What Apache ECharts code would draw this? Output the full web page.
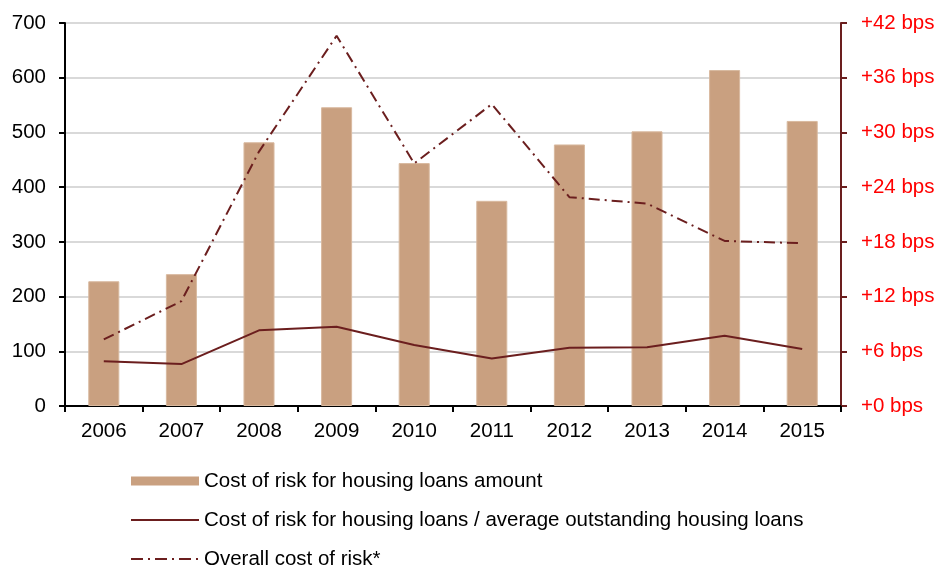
<!DOCTYPE html>
<html>
<head>
<meta charset="utf-8">
<script src="https://cdn.jsdelivr.net/npm/echarts@6/dist/echarts.min.js"></script>
<style>
  html, body { margin: 0; padding: 0; background: #fff; }
  #chart { width: 939px; height: 568px; }
</style>
</head>
<body>
<div id="chart"></div>
<script>
// Years on the category axis
const years = ['2006', '2007', '2008', '2009', '2010', '2011', '2012', '2013', '2014', '2015'];
// Cost of risk for housing loans, amount (left axis)
const housingAmount = [228, 241, 482, 546, 444, 375, 478, 502, 614, 521];
// Cost of risk for housing loans / average outstanding housing loans, in bps (right axis)
const housingRatioBps = [4.9, 4.6, 8.3, 8.7, 6.7, 5.2, 6.4, 6.45, 7.7, 6.25];
// Overall cost of risk, in bps (right axis)
const overallBps = [7.3, 11.5, 27.9, 40.6, 26.6, 33.1, 22.9, 22.2, 18.1, 17.85];
// Right axis tick values
const bpsTicks = [0, 6, 12, 18, 24, 30, 36, 42];

const seriesNames = [
  'Cost of risk for housing loans amount',
  'Cost of risk for housing loans / average outstanding housing loans',
  'Overall cost of risk*'
];

const font = 'Arial, "Liberation Sans", sans-serif';
const maroon = '#6B1E1E';
const barColor = '#C9A080';
const hiddenSymbol = { color: 'rgba(0,0,0,0)', borderWidth: 0, opacity: 0 };

const chart = echarts.init(document.getElementById('chart'), null, { renderer: 'canvas' });

chart.setOption({
  animation: false,
  backgroundColor: '#ffffff',
  grid: { left: 65, right: 98, top: 23, bottom: 162, containLabel: false },
  legend: {
    orient: 'vertical',
    left: 130,
    top: 470,
    height: 130,
    padding: 0,
    itemWidth: 68,
    itemHeight: 9,
    itemGap: 17,
    textStyle: { fontFamily: font, fontSize: 20.5, color: '#000', lineHeight: 22 },
    data: [
      { name: seriesNames[0], icon: 'rect', itemStyle: { color: barColor, borderWidth: 0 } },
      { name: seriesNames[1], itemStyle: hiddenSymbol },
      { name: seriesNames[2], itemStyle: hiddenSymbol, lineStyle: { type: [12, 5, 2, 5] } }
    ]
  },
  xAxis: {
    type: 'category',
    data: years,
    axisLine: { lineStyle: { color: '#000', width: 2 } },
    axisTick: { show: true, length: 6, lineStyle: { color: '#000', width: 2 } },
    axisLabel: { fontFamily: font, fontSize: 20.5, color: '#000', margin: 15 },
    splitLine: { show: false }
  },
  yAxis: [
    {
      type: 'value',
      min: 0,
      max: 700,
      interval: 100,
      axisLine: { show: true, lineStyle: { color: '#000', width: 2 } },
      axisTick: { show: true, length: 6, lineStyle: { color: '#000', width: 2 } },
      axisLabel: { fontFamily: font, fontSize: 20.5, color: '#000', margin: 19 },
      splitLine: { show: true, lineStyle: { color: '#D9D9D9', width: 2 } }
    },
    {
      type: 'value',
      position: 'right',
      min: 0,
      max: 42,
      interval: 6,
      axisLine: { show: true, lineStyle: { color: maroon, width: 2 } },
      axisTick: { show: true, length: 6, lineStyle: { color: maroon, width: 2 } },
      axisLabel: {
        fontFamily: font, fontSize: 20.5, color: '#FF0000', margin: 20,
        formatter: v => bpsTicks.includes(v) ? '+' + v + ' bps' : ''
      },
      splitLine: { show: false }
    }
  ],
  series: [
    {
      name: seriesNames[0],
      type: 'bar',
      yAxisIndex: 0,
      data: housingAmount,
      barWidth: '40%',
      itemStyle: { color: barColor, borderColor: '#D8B99F', borderWidth: 1 }
    },
    {
      name: seriesNames[1],
      type: 'line',
      yAxisIndex: 1,
      data: housingRatioBps,
      symbol: 'none',
      lineStyle: { color: maroon, width: 2 },
      itemStyle: { color: maroon }
    },
    {
      name: seriesNames[2],
      type: 'line',
      yAxisIndex: 1,
      data: overallBps,
      symbol: 'none',
      lineStyle: { color: maroon, width: 2, type: [11, 5, 2, 5] },
      itemStyle: { color: maroon }
    }
  ]
});
</script>
</body>
</html>
